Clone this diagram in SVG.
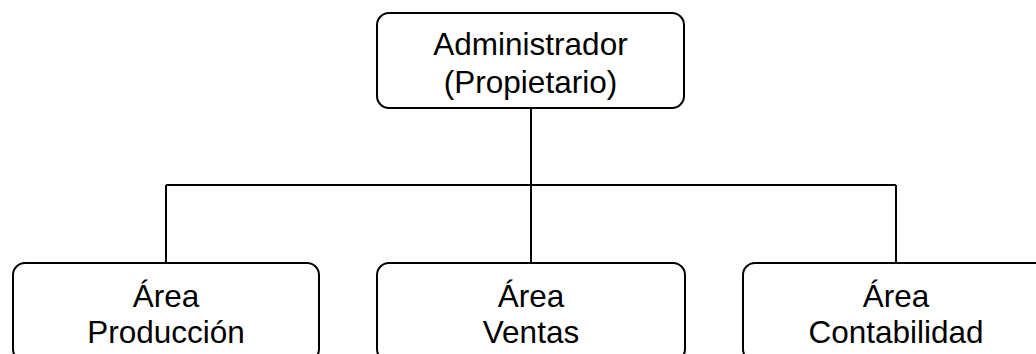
<svg xmlns="http://www.w3.org/2000/svg" width="1036" height="354" viewBox="0 0 1036 354">
<style>
.box{fill:#fff;stroke:#000;stroke-width:2}
.conn{fill:none;stroke:#000;stroke-width:2}
.lbl{font-family:"Liberation Sans",Arial,sans-serif;font-size:31.5px;fill:#000;text-anchor:middle}
</style>
<rect width="1036" height="354" fill="#fff"/>
<g id="connectors">
<path class="conn" d="M531 108 V185 M166 185 H896 M166 185 V263 M531 185 V263 M896 185 V263"/>
</g>
<g id="admin">
<rect class="box" x="377" y="13" width="307" height="95" rx="12"/>
<text class="lbl" x="530.5" y="55">Administrador</text>
<text class="lbl" x="530.5" y="93">(Propietario)</text>
</g>
<g id="produccion">
<rect class="box" x="13" y="263" width="306" height="98" rx="12"/>
<text class="lbl" x="166" y="307">Área</text>
<text class="lbl" x="166" y="343">Producción</text>
</g>
<g id="ventas">
<rect class="box" x="377" y="263" width="308" height="98" rx="12"/>
<text class="lbl" x="531" y="307">Área</text>
<text class="lbl" x="531" y="343">Ventas</text>
</g>
<g id="contabilidad">
<rect class="box" x="743" y="263" width="306" height="98" rx="12"/>
<text class="lbl" x="896" y="307">Área</text>
<text class="lbl" x="896" y="343">Contabilidad</text>
</g>
</svg>
